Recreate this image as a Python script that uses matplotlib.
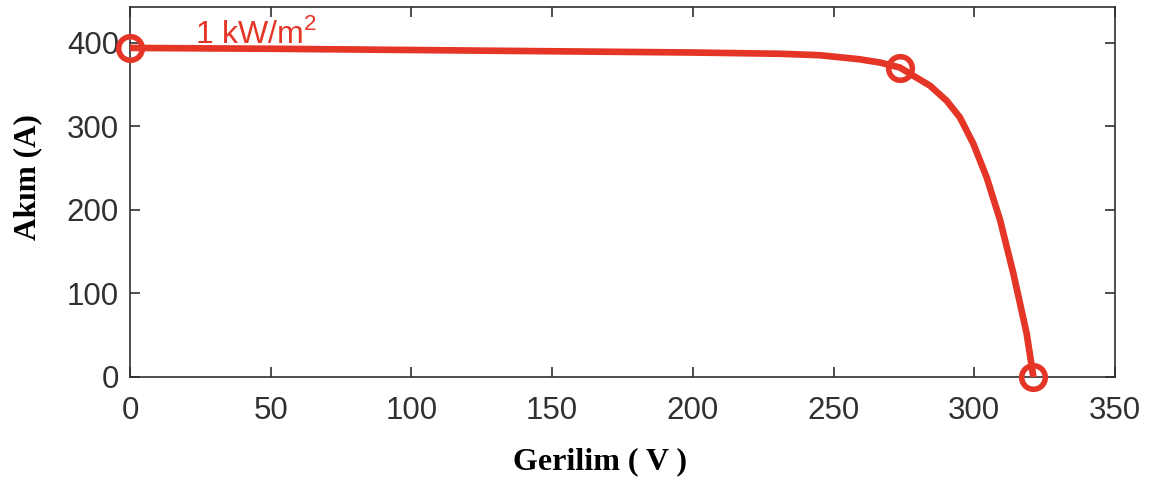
import matplotlib.pyplot as plt

plt.rcParams['mathtext.fontset'] = 'custom'
plt.rcParams['mathtext.rm'] = 'Liberation Sans'

# I-V egrisi (okunan degerler)
gerilim = [0, 50, 100, 150, 200, 231, 245, 259, 266.5, 273.6, 278.4, 284.3, 290.2,
           294.9, 299.7, 304.4, 309.2, 313.9, 318.6, 321]
akim = [394, 393, 391.5, 390, 388.5, 387, 385.3, 380.5, 376.5, 370.5, 360.6, 348.7, 330.7,
        310.8, 279, 239, 187.5, 123.8, 52.2, 0]

# isaretli noktalar: Isc, MPP, Voc
nokta_v = [0, 273.6, 321]
nokta_i = [394, 370.5, 0]

kirmizi = '#e53527'
gri = '#303030'

fig = plt.figure(figsize=(11.53, 4.86), dpi=100)
ax = fig.add_axes([130 / 1153, 1 - 377 / 486, (1115 - 130) / 1153, (377 - 7) / 486])

ax.plot(gerilim, akim, '-', color=kirmizi, lw=4.8, solid_capstyle='round',
        solid_joinstyle='round', zorder=3)
ax.plot(nokta_v, nokta_i, 'o', mfc='none', mec=kirmizi, mew=4, ms=17, zorder=4, clip_on=False)

ax.text(23, 400, '1 kW/m$^2$', color=kirmizi, fontsize=23, family='Liberation Sans')

ax.set_xlim(0, 350)
ax.set_ylim(0, 443)
ax.set_xticks(range(0, 351, 50))
ax.set_yticks(range(0, 401, 100))
ax.tick_params(direction='in', top=True, right=True, length=7, width=1.2, colors=gri,
               labelsize=22.5)
ax.tick_params(axis='x', pad=14)
ax.tick_params(axis='y', pad=8)
for lab in ax.get_xticklabels() + ax.get_yticklabels():
    lab.set_family('Liberation Sans')
for s in ax.spines.values():
    s.set_color(gri)
    s.set_linewidth(1.2)

fig.text(600 / 1153, 1 - 462 / 486, 'Gerilim ( V )', ha='center', va='center',
         fontsize=23, fontweight='bold', family='Liberation Serif')
fig.text(28 / 1153, 1 - 177 / 486, 'Akım (A)', ha='center', va='center', rotation=90,
         fontsize=22.5, fontweight='bold', family='Liberation Serif')

fig.savefig('out.png', dpi=100)
